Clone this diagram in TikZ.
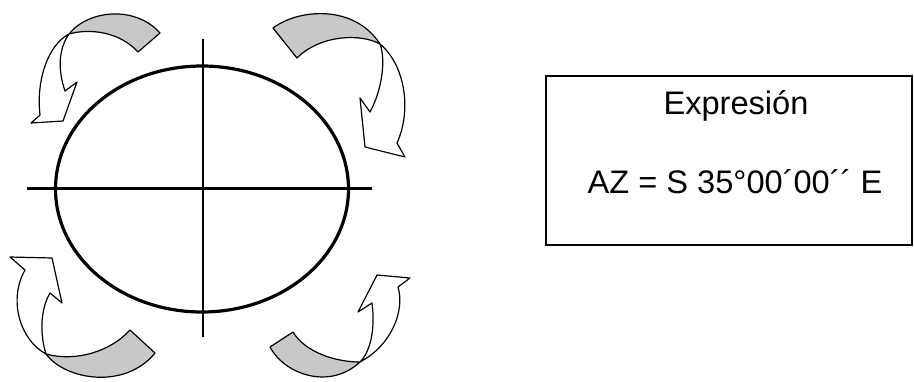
\documentclass[tikz,border=0pt]{standalone}
\usepackage{fontspec}
\setmainfont{Liberation Sans}
\begin{document}
\begin{tikzpicture}[x=0.5pt,y=-0.5pt,
  band/.style={fill={rgb,255:red,200;green,200;blue,200},draw=black,line width=0.6pt,line join=round},
  warrow/.style={fill=white,draw=black,line width=0.6pt,line join=round},
  axis/.style={draw=black},
  lbl/.style={font=\fontsize{16.3}{19}\selectfont,inner sep=0pt}]
\useasboundingbox (0,0) rectangle (914,381);
% ellipse and axes
\draw[line width=1.6pt] (202,189) ellipse [x radius=146.5, y radius=-123];
\draw[axis,line width=1.5pt] (27,188) -- (372,188);
\draw[axis,line width=0.75pt] (203,39) -- (203,337);
% top-left arrow
\path[band] (69,34) .. controls (88,10) and (135,5) .. (160,33) -- (138,52)
  .. controls (120,32) and (90,28) .. (69,34) -- cycle;
\path[warrow] (69,34) .. controls (48,45) and (36,80) .. (40,115) -- (31,123) -- (63,121) -- (77,82) -- (65,91)
  .. controls (58,70) and (58,50) .. (69,34) -- cycle;
% top-right arrow
\path[band] (273,28) .. controls (300,8) and (355,5) .. (380,44)
  .. controls (360,33) and (320,35) .. (297,58) -- cycle;
\path[warrow] (380,44) .. controls (405,65) and (412,110) .. (397,143) -- (405,157) -- (365,147) -- (360,98) -- (370,112)
  .. controls (382,90) and (386,60) .. (380,44) -- cycle;
% bottom-left arrow
\path[band] (46,354) .. controls (65,380) and (125,390) .. (155,353) -- (130,330)
  .. controls (110,352) and (75,362) .. (46,354) -- cycle;
\path[warrow] (46,354) .. controls (20,340) and (8,300) .. (25,270) -- (10,257) -- (52,258) -- (62,303) -- (50,293)
  .. controls (40,310) and (40,335) .. (46,354) -- cycle;
% bottom-right arrow
\path[band] (270,347) .. controls (285,375) and (330,390) .. (360,362)
  .. controls (335,362) and (305,352) .. (293,332) -- cycle;
\path[warrow] (360,362) .. controls (392,345) and (405,310) .. (398,287) -- (410,278) -- (377,275) -- (358,312) -- (372,303)
  .. controls (375,325) and (372,350) .. (360,362) -- cycle;
% expression box
\draw[line width=0.8pt] (546,76) rectangle (912,245);
\node[lbl] (t1) at (736,106) {Expresión};
\node[lbl] (t2) at (735,182) {AZ = S 35°00´00´´ E};
\end{tikzpicture}
\end{document}
